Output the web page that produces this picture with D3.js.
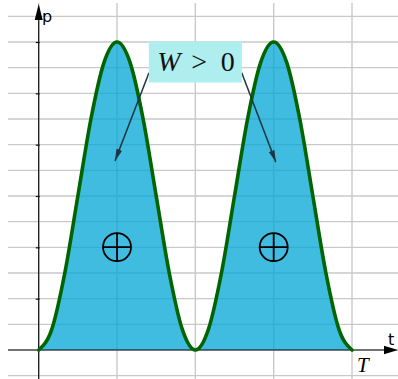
<!DOCTYPE html>
<html>
<head>
<meta charset="utf-8">
<script src="https://cdn.jsdelivr.net/npm/d3@7"></script>
<style>
  html, body { margin: 0; padding: 0; background: #fff; }
  svg { display: block; }
</style>
</head>
<body>
<script>
// Instantaneous power over one period T: two positive humps.
// Time in fractions of T, power relative to its peak.
const timeFractions = [0, 0.0417, 0.0833, 0.125, 0.1667, 0.2083, 0.25, 0.2917, 0.3333, 0.375, 0.4167, 0.4583, 0.5,
                       0.5417, 0.5833, 0.625, 0.6667, 0.7083, 0.75, 0.7917, 0.8333, 0.875, 0.9167, 0.9583, 1];
const powerValues   = [0, 0.067, 0.25, 0.5, 0.75, 0.933, 1, 0.933, 0.75, 0.5, 0.25, 0.067, 0,
                       0.067, 0.25, 0.5, 0.75, 0.933, 1, 0.933, 0.75, 0.5, 0.25, 0.067, 0];

// Grid positions
const gridT = [0, 0.25, 0.5, 0.75, 1];
const gridP = d3.range(-1, 14).map(k => k / 12);
const tickP = [2, 4, 6, 8, 10, 12].map(k => k / 12);

// Annotation: label, where its arrows leave it and the points they indicate, plus the sign marks
const workLabel = { t: 0.5, p: 0.935 };
const arrowPaths = [
  { t0: 0.352, p0: 0.9, t: 0.2435, p: 0.614 },
  { t0: 0.648, p0: 0.9, t: 0.757, p: 0.61 }
];
const signMarks = [{ t: 0.25, p: 0.334 }, { t: 0.75, p: 0.334 }];

const W = 398, H = 379;
const svg = d3.select("body").append("svg").attr("width", W).attr("height", H);

const x = d3.scaleLinear().domain([0, 1]).range([38.7, 352]);
const y = d3.scaleLinear().domain([0, 1]).range([350, 42]);

const defs = svg.append("defs");
defs.append("marker")
  .attr("id", "arr").attr("viewBox", "0 0 12 6").attr("refX", 12).attr("refY", 3)
  .attr("markerWidth", 12).attr("markerHeight", 6).attr("markerUnits", "userSpaceOnUse")
  .attr("orient", "auto")
  .append("path").attr("d", "M0,0 L12,3 L0,6 Z").attr("fill", "#1c3644");

// Grid
const grid = svg.append("g").attr("stroke", "#c9c9c9").attr("stroke-width", 1.4);
grid.selectAll("line.h").data(gridP).join("line").attr("class", "h")
  .attr("x1", 8).attr("x2", W).attr("y1", d => y(d)).attr("y2", d => y(d));
grid.selectAll("line.v").data(gridT).join("line").attr("class", "v")
  .attr("x1", d => x(d)).attr("x2", d => x(d)).attr("y1", 3).attr("y2", H);

const pts = timeFractions.map((t, i) => [t, powerValues[i]]);

// Filled area under the power curve
svg.append("path").datum(pts)
  .attr("d", d3.area().x(d => x(d[0])).y0(y(0)).y1(d => y(d[1])).curve(d3.curveMonotoneX))
  .attr("fill", "#00a5d6").attr("fill-opacity", 0.75);

// Axes
const axes = svg.append("g").attr("stroke", "#111").attr("stroke-width", 1.2);
axes.append("line").attr("x1", x(0)).attr("x2", x(0)).attr("y1", H).attr("y2", 18);
axes.append("line").attr("x1", 8).attr("x2", W - 12).attr("y1", y(0)).attr("y2", y(0));
svg.append("path").attr("fill", "#000")
  .attr("d", `M${x(0)},4 L${x(0) - 4},20 L${x(0) + 4},20 Z`);
svg.append("path").attr("fill", "#000")
  .attr("d", `M${W},${y(0)} L${W - 14},${y(0) - 4.2} L${W - 14},${y(0) + 4.2} Z`);

svg.append("g").attr("transform", `translate(${x(0) + 1},0)`)
  .call(d3.axisLeft(y).tickValues(tickP).tickSize(4).tickFormat(""))
  .call(g => g.select(".domain").remove())
  .call(g => g.selectAll(".tick line").attr("stroke", "#111").attr("stroke-width", 1.2));

// Power curve
svg.append("path").datum(pts)
  .attr("d", d3.line().x(d => x(d[0])).y(d => y(d[1])).curve(d3.curveMonotoneX))
  .attr("fill", "none").attr("stroke", "#006400").attr("stroke-width", 3.6)
  .attr("stroke-linejoin", "round").attr("stroke-linecap", "round");

// Axis labels
svg.append("text").attr("x", 42).attr("y", 22).text("p")
  .attr("font-family", "DejaVu Sans, sans-serif").attr("font-size", 16);
svg.append("text").attr("x", 388).attr("y", 345).text("t")
  .attr("font-family", "DejaVu Sans, sans-serif").attr("font-size", 16);
svg.append("text").attr("x", 357).attr("y", 372).text("T")
  .attr("font-family", "Liberation Serif, serif").attr("font-style", "italic").attr("font-size", 21);

// Sign marks (circled plus)
const sm = svg.append("g").selectAll("g").data(signMarks).join("g")
  .attr("transform", d => `translate(${x(d.t)},${y(d.p)})`)
  .attr("stroke", "#000").attr("stroke-width", 1.8).attr("fill", "none");
sm.append("circle").attr("r", 14);
sm.append("line").attr("x1", -14).attr("x2", 14);
sm.append("line").attr("y1", -14).attr("y2", 14);

// Arrows from the label to each hump
svg.append("g").selectAll("line").data(arrowPaths).join("line")
  .attr("x1", d => x(d.t0)).attr("y1", d => y(d.p0)).attr("x2", d => x(d.t)).attr("y2", d => y(d.p))
  .attr("stroke", "#1c3644").attr("stroke-width", 1.5).attr("marker-end", "url(#arr)");

// Label box
const lx = x(workLabel.t), ly = y(workLabel.p);
svg.append("rect").attr("x", lx - 46.5).attr("y", ly - 20.5).attr("width", 93).attr("height", 41)
  .attr("fill", "#afeeee");
const lt = svg.append("text").attr("y", ly + 8.5)
  .attr("font-family", "Liberation Serif, serif").attr("font-size", 28).attr("fill", "#111");
lt.append("tspan").attr("x", lx - 38).attr("font-style", "italic").text("W");
lt.append("tspan").attr("x", lx - 4).text(">");
lt.append("tspan").attr("x", lx + 25.5).text("0");
</script>
</body>
</html>
